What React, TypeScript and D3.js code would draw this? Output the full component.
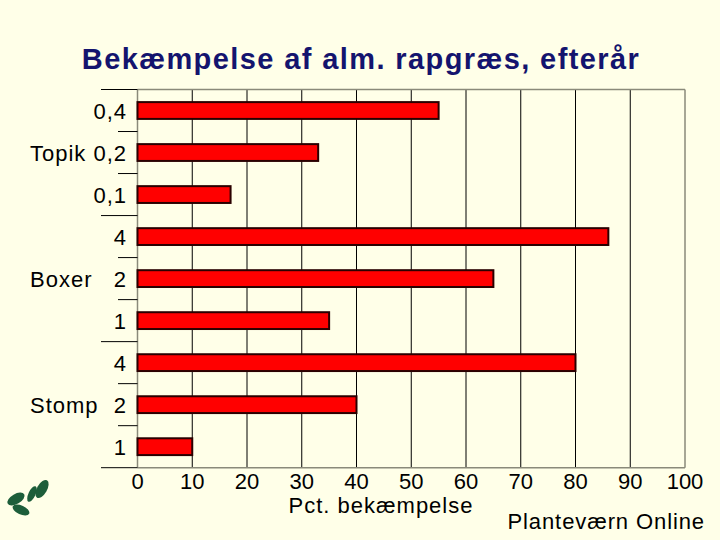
import React from "react";
import * as d3 from "d3";

const title = "Bekæmpelse af alm. rapgræs, efterår";
const barLabels = ["0,4", "0,2", "0,1", "4", "2", "1", "4", "2", "1"];
const barKeys = ["T04", "T02", "T01", "B4", "B2", "B1", "S4", "S2", "S1"];
const values = [55, 33, 17, 86, 65, 35, 80, 40, 10];
const groups = ["Topik", "Boxer", "Stomp"];
const groupCenterIndex = [1, 4, 7];
const xTicks = [0, 10, 20, 30, 40, 50, 60, 70, 80, 90, 100];
const xLabel = "Pct. bekæmpelse";
const credit = "Planteværn Online";

const W = 720, H = 540;
const left = 137.5, right = 685, top = 89.5, bottom = 467.7;
const FONT = "'Liberation Sans', Arial, sans-serif";

export default function App() {
  const x = d3.scaleLinear().domain([0, 100]).range([left, right]);
  const y = d3.scaleBand().domain(barKeys).range([top, bottom]).paddingInner(0.6).paddingOuter(0.3);
  const band = (bottom - top) / barKeys.length;
  const boundaries = d3.range(barKeys.length + 1).map((i) => top + i * band);

  return (
    <svg width={W} height={H} style={{ position: "absolute", left: 0, top: 0, background: "#FFFFE8" }}>
      <rect x={0} y={0} width={W} height={H} fill="#FFFFE8" />
      <text x={361} y={69} textAnchor="middle" fontFamily={FONT} fontWeight="bold" fontSize={29} letterSpacing={1.4} fill="#14146e">
        {title}
      </text>
      {/* grid lines */}
      {xTicks.slice(1, -1).map((t) => (
        <line key={t} x1={x(t)} x2={x(t)} y1={top} y2={bottom} stroke="#000" strokeWidth={1} />
      ))}
      {/* frame */}
      <line x1={left} x2={right} y1={top} y2={top} stroke="#8a8a7a" strokeWidth={1.5} />
      <line x1={right} x2={right} y1={top} y2={bottom} stroke="#8a8a7a" strokeWidth={1.5} />
      <line x1={left} x2={right} y1={bottom} y2={bottom} stroke="#8a8a7a" strokeWidth={1.5} />
      <line x1={left} x2={left} y1={top} y2={bottom} stroke="#8a8a7a" strokeWidth={1.5} />
      {/* left ticks */}
      {boundaries.map((b, i) => (
        <line key={i} x1={i % 3 === 0 ? 101 : 118} x2={left} y1={b} y2={b} stroke="#000" strokeWidth={1} />
      ))}
      {/* bars */}
      {barKeys.map((k, i) => (
        <rect
          key={k}
          x={x(0)}
          y={y(k)!}
          width={x(values[i]) - x(0)}
          height={y.bandwidth()}
          fill="#FF0000"
          stroke="#2a0000"
          strokeWidth={2}
        />
      ))}
      {/* bar labels */}
      {barKeys.map((k, i) => (
        <text key={k} x={127} y={y(k)! + y.bandwidth() / 2 + 8} textAnchor="end" fontFamily={FONT} fontSize={22} letterSpacing={1} fill="#000">
          {barLabels[i]}
        </text>
      ))}
      {groups.map((g, i) => {
        const k = barKeys[groupCenterIndex[i]];
        return (
          <text key={g} x={30} y={y(k)! + y.bandwidth() / 2 + 8} fontFamily={FONT} fontSize={22} letterSpacing={1} fill="#000">
            {g}
          </text>
        );
      })}
      {/* x tick labels */}
      {xTicks.map((t) => (
        <text key={t} x={x(t)} y={489} textAnchor="middle" fontFamily={FONT} fontSize={22} fill="#000">
          {t}
        </text>
      ))}
      <text x={381} y={513} textAnchor="middle" fontFamily={FONT} fontSize={22} letterSpacing={1} fill="#000">
        {xLabel}
      </text>
      <text x={705} y={529} textAnchor="end" fontFamily={FONT} fontSize={22} letterSpacing={0.9} fill="#000">
        {credit}
      </text>
      {/* logo */}
      <g fill="#1d5e3a">
        <ellipse cx={16} cy={499} rx={9.5} ry={5} transform="rotate(-30 16 499)" />
        <ellipse cx={21} cy={510} rx={9} ry={4.5} transform="rotate(25 21 510)" />
        <ellipse cx={32} cy={494} rx={3.5} ry={8.5} transform="rotate(25 32 494)" />
        <ellipse cx={42} cy={489} rx={5} ry={10} transform="rotate(30 42 489)" />
      </g>
    </svg>
  );
}
